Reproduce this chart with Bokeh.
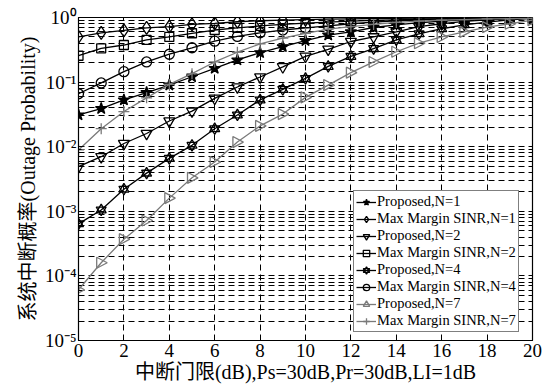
from bokeh.plotting import figure
from bokeh.models import FixedTicker, Legend, LegendItem, ColumnDataSource, Range1d
from bokeh.embed import file_html
from bokeh.resources import INLINE

x = list(range(21))

p1 = [0.031, 0.039, 0.053, 0.069, 0.09, 0.121, 0.163, 0.22, 0.285, 0.353, 0.44,
      0.535, 0.60, 0.70, 0.77, 0.83, 0.88, 0.92, 0.95, 0.97, 0.985]
m1 = [0.50, 0.58, 0.63, 0.69, 0.72, 0.78, 0.81, 0.86, 0.89, 0.91, 0.93,
      0.945, 0.955, 0.965, 0.97, 0.975, 0.98, 0.985, 0.99, 0.99, 0.995]
p2 = [0.0049, 0.0070, 0.0112, 0.016, 0.025, 0.0355, 0.056, 0.084, 0.12, 0.172, 0.25,
      0.322, 0.425, 0.50, 0.60, 0.72, 0.80, 0.87, 0.92, 0.95, 0.98]
m2 = [0.256, 0.333, 0.375, 0.45, 0.50, 0.57, 0.64, 0.69, 0.74, 0.78, 0.82,
      0.85, 0.88, 0.90, 0.92, 0.94, 0.95, 0.96, 0.97, 0.98, 0.985]
p4 = [6.4e-4, 1.05e-3, 2.2e-3, 3.9e-3, 6.6e-3, 0.0105, 0.019, 0.031, 0.053, 0.077, 0.114,
      0.175, 0.25, 0.33, 0.45, 0.56, 0.67, 0.77, 0.85, 0.92, 0.97]
m4 = [0.066, 0.097, 0.145, 0.205, 0.27, 0.34, 0.43, 0.51, 0.58, 0.64, 0.69,
      0.74, 0.80, 0.85, 0.89, 0.92, 0.94, 0.96, 0.97, 0.98, 0.985]
p7 = [6.1e-5, 1.6e-4, 3.7e-4, 7.2e-4, 1.6e-3, 3.3e-3, 5.8e-3, 0.0118, 0.021, 0.032, 0.058,
      0.09, 0.14, 0.205, 0.295, 0.40, 0.50, 0.60, 0.71, 0.80, 0.91]
m7 = [0.0089, 0.019, 0.035, 0.057, 0.092, 0.135, 0.205, 0.29, 0.39, 0.48, 0.57,
      0.66, 0.72, 0.78, 0.84, 0.88, 0.91, 0.93, 0.95, 0.96, 0.97]

labels = ["Proposed,N=1", "Max Margin SINR,N=1", "Proposed,N=2", "Max Margin SINR,N=2",
          "Proposed,N=4", "Max Margin SINR,N=4", "Proposed,N=7", "Max Margin SINR,N=7"]

x_ticks = list(range(0, 21, 2))
y_ticks = [1e-5, 1e-4, 1e-3, 1e-2, 1e-1, 1e0]
y_tick_labels = ["10⁻⁵", "10⁻⁴", "10⁻³", "10⁻²", "10⁻¹", "10⁰"]

x_label = "中断门限(dB),Ps=30dB,Pr=30dB,LI=1dB"
y_label = "系统中断概率(Outage Probability)"

FONT = "'Liberation Serif', 'Noto Sans CJK SC', serif"

p = figure(width=552, height=386, x_range=(0, 20), y_range=(1e-5, 1),
           y_axis_type="log", output_backend="svg", toolbar_location=None,
           min_border_left=78, min_border_right=20, min_border_top=17,
           min_border_bottom=46, background_fill_color="white",
           border_fill_color="white")
p.outline_line_color = "black"
p.outline_line_width = 1.2
p.outline_line_alpha = 1
# an off-screen range used only to give the legend a marker sample
p.extra_x_ranges = {"legend_only": Range1d(100, 120)}

minor = [m * 10.0 ** k for k in range(-5, 0) for m in range(2, 10)]
p.xaxis.ticker = FixedTicker(ticks=x_ticks)
p.yaxis.ticker = FixedTicker(ticks=y_ticks, minor_ticks=minor)
p.yaxis.major_label_overrides = {t: l for t, l in zip(y_ticks, y_tick_labels)}

for ax in (p.xaxis[0], p.yaxis[0]):
    ax.major_tick_in = 5
    ax.major_tick_out = 0
    ax.minor_tick_in = 3
    ax.minor_tick_out = 0
    ax.axis_line_color = "black"
    ax.major_label_text_font = FONT
    ax.major_label_text_font_size = "19px"
    ax.major_label_text_color = "black"
    ax.axis_label_text_font = FONT
    ax.axis_label_text_font_size = "20px"
    ax.axis_label_text_font_style = "normal"
    ax.axis_label_text_color = "black"

p.xaxis.axis_label = x_label
p.yaxis.axis_label = y_label
p.xaxis.major_label_standoff = 3
p.xaxis.axis_label_standoff = 1
p.yaxis.major_label_standoff = 2
p.yaxis.axis_label_standoff = 3

for g in (p.xgrid[0], p.ygrid[0]):
    g.grid_line_color = "black"
    g.grid_line_dash = "6 4"
    g.grid_line_width = 1
    g.grid_line_alpha = 1
p.ygrid.minor_grid_line_color = "black"
p.ygrid.minor_grid_line_dash = "6 4"
p.ygrid.minor_grid_line_alpha = 1

BLACK = "black"
GRAY = "#7a7a7a"
LW = 1.3

# screen-size conversion for the right-pointing triangle marker
PX_PER_X = 454 / 20.0
PX_PER_DECADE = 322.5 / 5.0

series = [
    (p1, BLACK, ["star"], 12, True),
    (m1, BLACK, ["diamond"], 13, False),
    (p2, BLACK, ["inverted_triangle"], 11, False),
    (m2, BLACK, ["square"], 9, False),
    (p4, BLACK, ["triangle", "inverted_triangle"], 10, False),
    (m4, BLACK, ["circle"], 10, False),
    (p7, GRAY, ["right_triangle"], 11, False),
    (m7, GRAY, ["cross"], 11, False),
]

items = []
for (ys, col, markers, size, filled), lab in zip(series, labels):
    src = ColumnDataSource(dict(x=x, y=ys))
    rs = [p.line("x", "y", source=src, line_color=col, line_width=LW)]
    for mk in markers:
        if mk == "right_triangle":
            left, right, half = 4.5, 6.0, 5.5
            f = 10 ** (half / PX_PER_DECADE)
            xs = [[xi - left / PX_PER_X, xi - left / PX_PER_X, xi + right / PX_PER_X] for xi in x]
            yss = [[yi * f, yi / f, yi] for yi in ys]
            p.patches(xs, yss, fill_color=None, line_color=col, line_width=LW)
            # legend sample only: mapped to an off-screen range, so nothing shows in the plot
            rs.append(p.scatter("x", "y", source=src, x_range_name="legend_only",
                                marker="triangle", size=size, line_color=col,
                                line_width=LW, fill_color=None))
        else:
            rs.append(p.scatter("x", "y", source=src, marker=mk, size=size,
                                line_color=col, line_width=LW,
                                fill_color=col if filled else None))
    items.append(LegendItem(label=lab, renderers=rs))

legend = Legend(items=items, location=(275, 8))
legend.label_text_font = FONT
legend.label_text_font_size = "14.5px"
legend.label_text_color = "black"
legend.glyph_height = 16
legend.glyph_width = 20
legend.label_height = 16
legend.label_standoff = 1
legend.spacing = 0
legend.padding = 2
legend.margin = 0
legend.border_line_color = "black"
legend.border_line_width = 1
legend.background_fill_alpha = 1
p.add_layout(legend, "center")

open("out.html", "w").write(file_html(p, INLINE))
